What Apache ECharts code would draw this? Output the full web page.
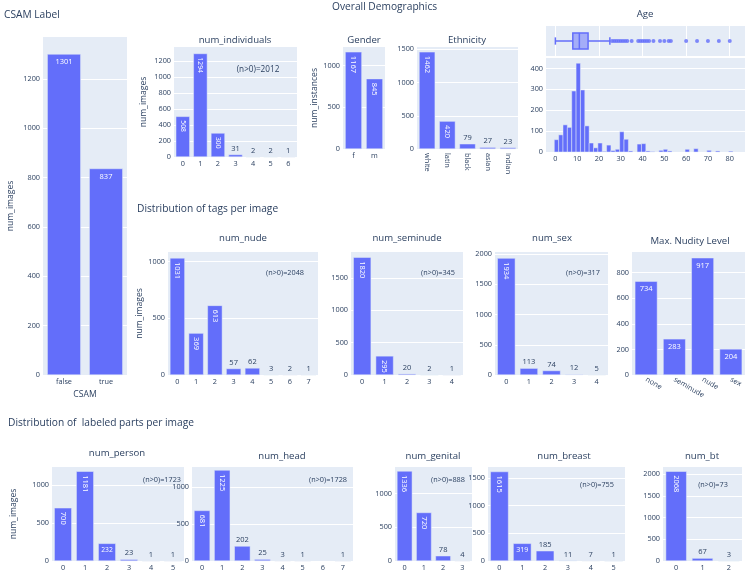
<!DOCTYPE html>
<html>
<head>
<meta charset="utf-8">
<script src="https://cdn.jsdelivr.net/npm/echarts@6/dist/echarts.min.js"></script>
<style>
  html, body { margin: 0; padding: 0; background: #fff; }
  #chart { width: 748px; height: 576px; }
</style>
</head>
<body>
<div id="chart"></div>
<script>
// ---- data ----
const csamCats = ['false', 'true']
const csamCounts = [1301, 837]

const individualCats = ['0', '1', '2', '3', '4', '5', '6']
const individualCounts = [508, 1294, 300, 31, 2, 2, 1]

const genderCats = ['f', 'm']
const genderCounts = [1167, 845]

const ethnicityCats = ['white', 'latin', 'black', 'asian', 'indian']
const ethnicityCounts = [1462, 420, 79, 27, 23]

// age histogram, 2-year bins starting at -0.5
const ageBinStart = -0.5
const ageBinWidth = 2
const ageBinCounts = [59, 82, 130, 118, 292, 425, 297, 125, 43, 20, 43, 3, 33, 7, 13, 97, 61, 5, 0, 38,
  40, 5, 2, 0, 8, 13, 5, 0, 0, 0, 13, 0, 16, 0, 0, 8, 0, 5, 0, 0, 4]
const ageBox = [0, 8, 11, 15, 25] // min, q1, median, q3, upper fence
const ageOutliers = [26, 27, 28, 29, 30, 31, 32, 33, 35, 38, 39, 40, 41, 42, 43, 45, 48, 50, 52, 53, 60, 65, 70, 75, 80]
const ageTicks = [0, 10, 20, 30, 40, 50, 60, 70, 80]

const nudeCats = ['0', '1', '2', '3', '4', '5', '6', '7']
const nudeCounts = [1031, 369, 613, 57, 62, 3, 2, 1]
const seminudeCats = ['0', '1', '2', '3', '4']
const seminudeCounts = [1820, 295, 20, 2, 1]
const sexCats = ['0', '1', '2', '3', '4']
const sexCounts = [1934, 113, 74, 12, 5]
const nudityLevelCats = ['none', 'seminude', 'nude', 'sex']
const nudityLevelCounts = [734, 283, 917, 204]

const personCats = ['0', '1', '2', '3', '4', '5']
const personCounts = [700, 1181, 232, 23, 1, 1]
const headCats = ['0', '1', '2', '3', '4', '5', '6', '7']
const headCounts = [681, 1225, 202, 25, 3, 1, null, 1]
const genitalCats = ['0', '1', '2', '3']
const genitalCounts = [1336, 720, 78, 4]
const breastCats = ['0', '1', '2', '3', '4', '5']
const breastCounts = [1615, 319, 185, 11, 7, 1]
const btCats = ['0', '1', '2']
const btCounts = [2068, 67, 3]

const nonZeroNotes = ['(n>0)=2012', '(n>0)=2048', '(n>0)=345', '(n>0)=317',
  '(n>0)=1723', '(n>0)=1728', '(n>0)=888', '(n>0)=755', '(n>0)=73']

// ---- styling ----
const BLUE = '#636efa'
const BG = '#E5ECF6'
const INK = '#2a3f5f'
const FONT = '"Open Sans", verdana, arial, sans-serif'
const TICK = 7.3

// bar panels: plot rect [left, top, width, height], y range, title
const panels = [
  { cats: csamCats, vals: csamCounts, rect: [43, 37, 84, 338], max: 1370, step: 200, yName: 'num_images', yGap: 28, xName: 'CSAM' },
  { cats: individualCats, vals: individualCounts, rect: [174, 47, 123, 110], max: 1375, step: 200, yName: 'num_images', yGap: 26, title: 'num_individuals', tx: 235, ty: 40 },
  { cats: genderCats, vals: genderCounts, rect: [343, 47, 42, 102], max: 1225, step: 500, yName: 'num_instances', yGap: 17, title: 'Gender', tx: 364, ty: 40 },
  { cats: ethnicityCats, vals: ethnicityCounts, rect: [417, 47, 101, 102], max: 1535, step: 500, rotate: -90, title: 'Ethnicity', tx: 467, ty: 40 },
  { cats: nudeCats, vals: nudeCounts, rect: [168, 252, 150, 123], max: 1083, step: 500, yName: 'num_images', yGap: 21, title: 'num_nude', tx: 243, ty: 238 },
  { cats: seminudeCats, vals: seminudeCounts, rect: [351, 252, 112, 123], max: 1900, step: 500, title: 'num_seminude', tx: 407, ty: 238 },
  { cats: sexCats, vals: sexCounts, rect: [495, 252, 113, 123], max: 2035, step: 500, title: 'num_sex', tx: 552, ty: 238 },
  { cats: nudityLevelCats, vals: nudityLevelCounts, rect: [632, 252, 113, 123], max: 962, step: 200, rotate: -30, title: 'Max. Nudity Level', tx: 690, ty: 241 },
  { cats: personCats, vals: personCounts, rect: [52, 467, 132, 94], max: 1237, step: 500, yName: 'num_images', yGap: 34, title: 'num_person', tx: 117, ty: 453 },
  { cats: headCats, vals: headCounts, rect: [192, 467, 161, 94], max: 1266, step: 500, title: 'num_head', tx: 282, ty: 456 },
  { cats: genitalCats, vals: genitalCounts, rect: [395, 467, 77, 94], max: 1395, step: 500, title: 'num_genital', tx: 433, ty: 456 },
  { cats: breastCats, vals: breastCounts, rect: [488, 467, 137, 94], max: 1697, step: 500, title: 'num_breast', tx: 564, ty: 456 },
  { cats: btCats, vals: btCounts, rect: [663, 467, 79, 94], max: 2166, step: 500, title: 'num_bt', tx: 702, ty: 456 }
]

const notePos = [[258, 70, 8.2], [285, 273, 7.3], [438, 273, 7.3], [583, 273, 7.3],
  [162, 480, 7.3], [328, 480, 7.3], [448, 480, 7.3], [597, 485, 7.3], [713, 485, 7.3]]

const headings = [['CSAM Label', 4, 15], ['Overall Demographics', 332, 7],
  ['Distribution of tags per image', 137, 209], ['Distribution of  labeled parts per image', 8, 423]]

// plotly-like "auto" text placement for a bar of pixel size bw x bh
function barLabel(v, bw, bh) {
  if (v == null) return { show: false }
  const fs = 7.5, pad = 3
  const tw = String(v).length * 0.572 * fs
  const th = 1.55 * fs
  const thFit = 1.2 * fs
  const w = bw - 2 * pad, h = bh - 2 * pad
  const base = { show: true, fontFamily: FONT }
  const fits = tw <= w && th <= h
  const fitsRot = tw <= h && th <= w
  const fitsShrunk = w > 0 && h > 0 && h >= th * (w / tw)
  if (!(fits || fitsRot || fitsShrunk)) {
    return { ...base, position: 'top', distance: 2, color: INK, fontSize: fs }
  }
  if (fits) return { ...base, position: 'insideTop', distance: 4, color: '#fff', fontSize: fs }
  const kFlat = Math.min(1, w / tw, h / thFit)
  const kRot = Math.min(1, w / thFit, h / tw)
  if (kRot > kFlat + 0.01) {
    return { ...base, position: 'insideTop', distance: 4, rotate: -90, align: 'left', verticalAlign: 'middle', color: '#fff', fontSize: fs * kRot }
  }
  return { ...base, position: 'insideTop', distance: 3, color: '#fff', fontSize: fs * kFlat }
}

const grid = [], xAxis = [], yAxis = [], series = []
const graphic = []

const gridBase = { show: true, backgroundColor: BG, borderWidth: 0, outerBoundsMode: 'none', containLabel: false }
const nameStyle = { color: INK, fontSize: 8.6, fontFamily: FONT }
const tickStyle = { color: INK, fontSize: TICK, fontFamily: FONT }

panels.forEach((p, i) => {
  const [l, t, w, h] = p.rect
  grid.push({ ...gridBase, left: l, top: t, width: w, height: h })
  xAxis.push({
    type: 'category', gridIndex: i, data: p.cats,
    axisLine: { show: false }, axisTick: { show: false },
    axisLabel: { ...tickStyle, margin: p.rotate ? 4 : 3, rotate: p.rotate || 0, interval: 0 },
    name: p.xName || '', nameLocation: 'middle', nameGap: 13, nameTextStyle: nameStyle
  })
  yAxis.push({
    type: 'value', gridIndex: i, min: 0, max: p.max, interval: p.step,
    axisLine: { show: false }, axisTick: { show: false },
    axisLabel: { ...tickStyle, margin: 3, showMaxLabel: false, formatter: v => (v % p.step === 0 ? String(v) : '') },
    splitLine: { lineStyle: { color: '#fff', width: 1 }, showMaxLine: false },
    name: p.yName || '', nameLocation: 'middle', nameGap: p.yGap || 20, nameTextStyle: nameStyle
  })
  const bw = w / p.cats.length * 0.8
  series.push({
    type: 'bar', xAxisIndex: i, yAxisIndex: i, barCategoryGap: '20%',
    itemStyle: { color: BLUE, borderColor: BG, borderWidth: 0.5 },
    data: p.vals.map(v => ({ value: v, label: barLabel(v, bw, v == null ? 0 : v / p.max * h) })),
    animation: false
  })
  if (p.title) {
    graphic.push({ type: 'text', x: p.tx, y: p.ty, silent: true,
      style: { text: p.title, fill: INK, fontSize: 9.6, fontFamily: FONT, align: 'center', verticalAlign: 'middle', textAlign: 'center', textVerticalAlign: 'middle' } })
  }
})

// age: marginal box on top, histogram below
const boxIdx = grid.length
grid.push({ ...gridBase, left: 546, top: 26, width: 199, height: 30 })
xAxis.push({
  type: 'value', gridIndex: boxIdx, min: -4.3, max: 87,
  axisLine: { show: false }, axisLabel: { show: false },
  axisTick: { show: false, customValues: [0, 20, 40, 60, 80] },
  splitLine: { show: true, lineStyle: { color: '#fff', width: 1 } }
})
yAxis.push({ type: 'category', gridIndex: boxIdx, data: ['age'], show: false })

const histIdx = grid.length
grid.push({ ...gridBase, left: 546, top: 58, width: 199, height: 94 })
xAxis.push({
  type: 'value', gridIndex: histIdx, min: -4.3, max: 87,
  axisLine: { show: false }, axisTick: { show: false },
  axisLabel: { ...tickStyle, margin: 3, customValues: ageTicks, formatter: v => String(v) },
  splitLine: { show: false }
})
yAxis.push({
  type: 'value', gridIndex: histIdx, min: 0, max: 450, interval: 100,
  axisLine: { show: false }, axisTick: { show: false },
  axisLabel: { ...tickStyle, margin: 3, showMaxLabel: false, formatter: v => (v % 100 === 0 ? String(v) : '') },
  splitLine: { lineStyle: { color: '#fff', width: 1 }, showMaxLine: false }
})

series.push({
  type: 'custom', xAxisIndex: histIdx, yAxisIndex: histIdx, animation: false,
  data: ageBinCounts.map((c, k) => [ageBinStart + k * ageBinWidth, ageBinStart + (k + 1) * ageBinWidth, c]),
  encode: { x: [0, 1], y: 2 },
  renderItem: (params, api) => {
    if (!api.value(2)) return null
    const a = api.coord([api.value(0), api.value(2)])
    const b = api.coord([api.value(1), 0])
    return { type: 'rect', shape: { x: a[0], y: a[1], width: b[0] - a[0], height: b[1] - a[1] },
      style: { fill: BLUE, stroke: BG, lineWidth: 0.5 } }
  }
})

series.push({
  type: 'custom', xAxisIndex: boxIdx, yAxisIndex: boxIdx, animation: false,
  data: [[...ageBox, 0]],
  encode: { x: [0, 1, 2, 3, 4], y: 5 },
  renderItem: (params, api) => {
    const xs = [0, 1, 2, 3, 4].map(d => api.coord([api.value(d), 0])[0])
    const y = api.coord([0, 0])[1]
    const half = api.size([0, 1])[1] * 0.27
    const cap = half * 0.45
    const ln = { stroke: BLUE, lineWidth: 1.5 }
    return { type: 'group', children: [
      { type: 'line', shape: { x1: xs[0], y1: y, x2: xs[1], y2: y }, style: ln },
      { type: 'line', shape: { x1: xs[3], y1: y, x2: xs[4], y2: y }, style: ln },
      { type: 'line', shape: { x1: xs[0], y1: y - cap, x2: xs[0], y2: y + cap }, style: ln },
      { type: 'line', shape: { x1: xs[4], y1: y - cap, x2: xs[4], y2: y + cap }, style: ln },
      { type: 'rect', shape: { x: xs[1], y: y - half, width: xs[3] - xs[1], height: 2 * half },
        style: { fill: 'rgba(99,110,250,0.5)', stroke: BLUE, lineWidth: 1.5 } },
      { type: 'line', shape: { x1: xs[2], y1: y - half, x2: xs[2], y2: y + half }, style: ln }
    ] }
  }
})

series.push({
  type: 'scatter', xAxisIndex: boxIdx, yAxisIndex: boxIdx, animation: false,
  symbolSize: 4, itemStyle: { color: BLUE },
  data: ageOutliers.map(a => [a, 0])
})

graphic.push({ type: 'text', x: 645, y: 14, silent: true,
  style: { text: 'Age', fill: INK, fontSize: 9.6, fontFamily: FONT, align: 'center', verticalAlign: 'middle', textAlign: 'center', textVerticalAlign: 'middle' } })

headings.forEach(([text, x, y]) => {
  graphic.push({ type: 'text', x, y, silent: true,
    style: { text, fill: INK, fontSize: 10.2, fontFamily: FONT, align: 'left', verticalAlign: 'middle', textAlign: 'left', textVerticalAlign: 'middle' } })
})

nonZeroNotes.forEach((text, i) => {
  const [x, y, fs] = notePos[i]
  graphic.push({ type: 'text', x, y, silent: true,
    style: { text, fill: INK, fontSize: fs, fontFamily: FONT, align: 'center', verticalAlign: 'middle', textAlign: 'center', textVerticalAlign: 'middle' } })
})

const myChart = echarts.init(document.getElementById('chart'))
myChart.setOption({
  animation: false,
  textStyle: { fontFamily: FONT, color: INK },
  grid, xAxis, yAxis, series, graphic
})
</script>
</body>
</html>
